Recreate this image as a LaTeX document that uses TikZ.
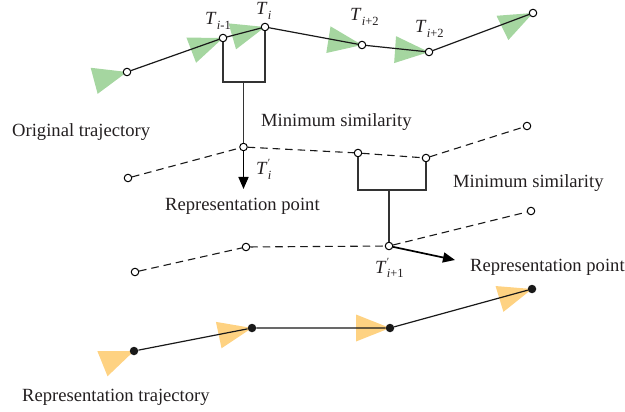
\documentclass[tikz,border=0pt]{standalone}
\usepackage{fontspec}
\setmainfont{Liberation Serif}
\usetikzlibrary{arrows.meta}
\definecolor{triG}{HTML}{A5D6A0}
\definecolor{triO}{HTML}{FED282}
\definecolor{brk}{HTML}{333333}
\definecolor{txt}{HTML}{231F20}
\newcommand\subtx[1]{\raisebox{-4.5pt}{\fontsize{12.5}{12.5}\selectfont #1}}
\newcommand\Tsub[1]{\textit{T}\kern0.3pt\subtx{#1}}
\newcommand\Tpr[1]{\textit{T}\kern0.3pt\rlap{\raisebox{8pt}{\fontsize{11}{11}\selectfont ′}}\subtx{#1}}
\newcommand\mytri[3]{\fill[#3,shift={(#1)},rotate=#2] (0,0) -- (-34,13.5) -- (-34,-13.5) -- cycle;}
\begin{document}
\begin{tikzpicture}[x=1pt,y=-1pt,
  opn/.style={circle,draw=black,fill=white,line width=1pt,inner sep=0pt,minimum size=7.5pt},
  fld/.style={circle,fill=black!90,inner sep=0pt,minimum size=8.5pt},
  traj/.style={line width=1.2pt,black!90},
  dtraj/.style={line width=1.1pt,black!90,dash pattern=on 7.5pt off 5pt},
  brack/.style={line width=1.2pt,brk},
  arr/.style={line width=1.7pt,black,-{Triangle[length=12pt,width=10pt]}},
  lbl/.style={anchor=base west,inner sep=0pt,text=txt,font=\fontsize{18.6}{21}\selectfont},
  tl/.style={anchor=base west,inner sep=0pt,text=txt,font=\fontsize{18.6}{21}\selectfont}]
\useasboundingbox (0,0) rectangle (625,412);
% coordinates
\coordinate (p1) at (127,72);
\coordinate (p2) at (223,38);
\coordinate (p3) at (265,27);
\coordinate (p4) at (362,45);
\coordinate (p5) at (429,52);
\coordinate (p6) at (533,13);
\coordinate (s1) at (134,351);
\coordinate (s2) at (252,328);
\coordinate (s3) at (390,328);
\coordinate (s4) at (532,289);
% triangles
\mytri{p1}{15}{triG}
\mytri{p2}{21}{triG}
\mytri{p3}{16}{triG}
\mytri{p4}{-9}{triG}
\mytri{p5}{-4}{triG}
\mytri{p6}{26}{triG}
\mytri{s1}{22}{triO}
\mytri{s2}{12}{triO}
\mytri{s3}{0}{triO}
\mytri{s4}{17}{triO}
% nodes
\node[opn] (P1) at (p1) {};
\node[opn] (P2) at (p2) {};
\node[opn] (P3) at (p3) {};
\node[opn] (P4) at (p4) {};
\node[opn] (P5) at (p5) {};
\node[opn] (P6) at (p6) {};
\node[opn] (Q1) at (128,178) {};
\node[opn] (Q2) at (243.5,147) {};
\node[opn] (Q3) at (358,153) {};
\node[opn] (Q4) at (426,158) {};
\node[opn] (Q5) at (527,126) {};
\node[opn] (R1) at (135,272) {};
\node[opn] (R2) at (246,247) {};
\node[opn] (R3) at (389,246) {};
\node[opn] (R4) at (531,211) {};
\node[fld] (S1) at (s1) {};
\node[fld] (S2) at (s2) {};
\node[fld] (S3) at (s3) {};
\node[fld] (S4) at (s4) {};
\coordinate (B1) at (243.5,82);
\coordinate (B2) at (389,190);
\coordinate (A1) at (243.5,189);
\coordinate (A2) at (455,260);
% lines
\draw[traj] (P1) -- (P2) -- (P3) -- (P4) -- (P5) -- (P6);
\draw[dtraj] (Q1) -- (Q2) -- (Q3) -- (Q4) -- (Q5);
\draw[dtraj] (R1) -- (R2) -- (R3) -- (R4);
\draw[traj] (S1) -- (S2) -- (S3) -- (S4);
\draw[brack] (P2) |- (B1) -| (P3);
\draw[brack] (B1) -- (Q2);
\draw[brack] (Q3) |- (B2) -| (Q4);
\draw[brack] (B2) -- (R3);
\draw[arr] (Q2) -- (A1);
\draw[arr] (R3) -- (A2);
% labels
\node[tl] (tlA) at (205,25) {\Tsub{\textit{i}-1}};
\node[tl] (tlB) at (256,15) {\Tsub{\textit{i}}};
\node[tl] (tlC) at (350,21) {\Tsub{\textit{i}+2}};
\node[tl] (tlD) at (415,33) {\Tsub{\textit{i}+2}};
\node[tl] (tlE) at (256,175) {\Tpr{\textit{i}}};
\node[tl] (tlF) at (375,273) {\Tpr{\textit{i}+1}};
\node[lbl] (l1) at (12,136) {Original trajectory};
\node[lbl] (l2) at (261,127) {Minimum similarity};
\node[lbl] (l3) at (165,211) {Representation point};
\node[lbl] (l4) at (453,187) {Minimum similarity};
\node[lbl] (l5) at (470,271) {Representation point};
\node[lbl] (l6) at (22,401) {Representation trajectory};
\end{tikzpicture}
\end{document}
